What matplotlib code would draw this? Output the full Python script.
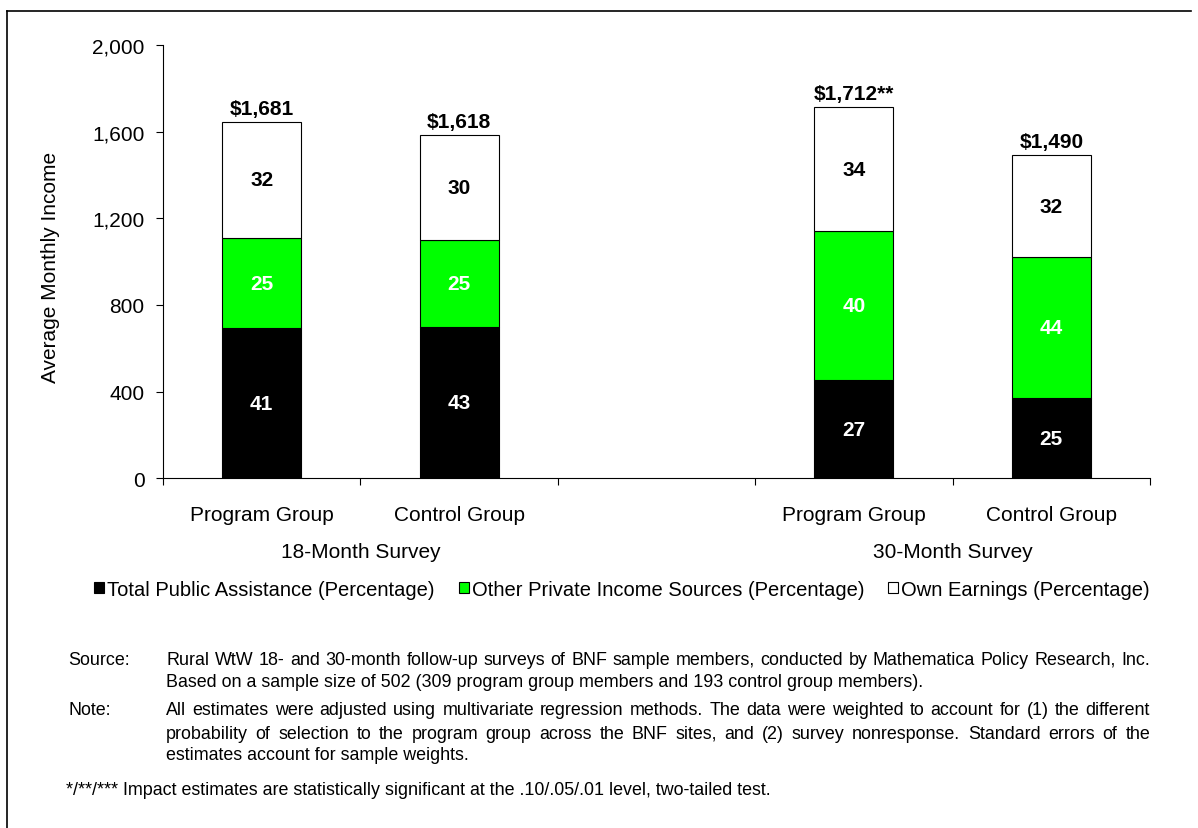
import matplotlib
matplotlib.use("Agg")
import matplotlib.pyplot as plt
import matplotlib.transforms as mtransforms
from matplotlib.patches import Patch
from matplotlib.lines import Line2D
from matplotlib.font_manager import FontProperties

plt.rcParams['font.family'] = ['Liberation Sans', 'DejaVu Sans']

# ---- data ----
groups = ["Program Group", "Control Group", "Program Group", "Control Group"]
surveys = ["18-Month Survey", "30-Month Survey"]
public_assist = [692, 697, 452, 371]
private_income = [418, 403, 690, 651]
own_earnings = [535, 483, 570, 468]
pct_public = ["41", "43", "27", "25"]
pct_private = ["25", "25", "40", "44"]
pct_earn = ["32", "30", "34", "32"]
totals = ["$1,681", "$1,618", "$1,712**", "$1,490"]
series_names = ["Total Public Assistance (Percentage)",
                "Other Private Income Sources (Percentage)",
                "Own Earnings (Percentage)"]
yticks = [0, 400, 800, 1200, 1600, 2000]
ytick_labels = ["0", "400", "800", "1,200", "1,600", "2,000"]

W, H = 1198, 829
fig = plt.figure(figsize=(W / 100, H / 100), dpi=100)
ax = fig.add_axes([163 / W, 1 - 479.3 / H, (1150 - 163) / W, (479.3 - 46) / H])

# layout: 5 category slots, third left blank
xpos = [0.5, 1.5, 3.5, 4.5]
bw = 0.4
GREEN = "#00FF00"
b1 = ax.bar(xpos, public_assist, bw, color="black", edgecolor="black", linewidth=0.8)
b2 = ax.bar(xpos, private_income, bw, bottom=public_assist, color=GREEN, edgecolor="black", linewidth=0.8)
bot3 = [a + b for a, b in zip(public_assist, private_income)]
b3 = ax.bar(xpos, own_earnings, bw, bottom=bot3, color="white", edgecolor="black", linewidth=0.8)

ax.bar_label(b1, labels=pct_public, label_type="center", color="white", fontsize=15, fontweight="bold")
ax.bar_label(b2, labels=pct_private, label_type="center", color="white", fontsize=15, fontweight="bold")
ax.bar_label(b3, labels=pct_earn, label_type="center", color="black", fontsize=15, fontweight="bold")
ax.bar_label(b3, labels=totals, label_type="edge", padding=3, color="black", fontsize=15, fontweight="bold")

ax.set_xlim(0, 5)
ax.set_ylim(0, 2000)
ax.set_yticks(yticks)
ax.set_yticklabels(ytick_labels)
ax.set_xticks([0, 1, 2, 3, 4, 5])
ax.set_xticklabels([])
ax.tick_params(axis="y", direction="out", length=4.8, width=0.8, labelsize=15, pad=8.4)
ax.tick_params(axis="x", direction="out", length=4.8, width=0.8)
for s in ["top", "right"]:
    ax.spines[s].set_visible(False)
for s in ["left", "bottom"]:
    ax.spines[s].set_linewidth(0.8)

trans = mtransforms.blended_transform_factory(ax.transData, fig.transFigure)
for x, g in zip(xpos, groups):
    ax.text(x, 1 - 516 / H, g, transform=trans, ha="center", va="center", fontsize=15)
for x, s in zip([1.0, 4.0], surveys):
    ax.text(x, 1 - 552 / H, s, transform=trans, ha="center", va="center", fontsize=15)

fig.text(51 / W, 1 - 267.5 / H, "Average Monthly Income", rotation=90,
         ha="center", va="center", fontsize=15)

handles = [Patch(facecolor="black", edgecolor="black", linewidth=0.8),
           Patch(facecolor=GREEN, edgecolor="black", linewidth=0.8),
           Patch(facecolor="white", edgecolor="black", linewidth=0.8)]
fig.legend(handles, series_names, loc="center", bbox_to_anchor=(622 / W, 1 - 590 / H),
           ncol=3, frameon=False, fontsize=14.5, handlelength=0.5, handleheight=0.5,
           handletextpad=0.15, columnspacing=1.2, borderaxespad=0)

# ---- footnotes ----
renderer = fig.canvas.get_renderer()
X0, X1 = 166, 1150
src1 = "Rural WtW 18- and 30-month follow-up surveys of BNF sample members, conducted by Mathematica Policy Research, Inc."
src2 = "Based on a sample size of 502 (309 program group members and 193 control group members)."
note1 = "All estimates were adjusted using multivariate regression methods.  The data were weighted to account for (1) the different"
note2 = "probability of selection to the program group across the BNF sites, and (2) survey nonresponse.  Standard errors of the"
note3 = "estimates account for sample weights."
sig = "*/**/*** Impact estimates are statistically significant at the .10/.05/.01 level, two-tailed test."

fp0 = FontProperties(family=['Liberation Sans', 'DejaVu Sans'], size=12)
w0 = renderer.get_text_width_height_descent(src1, fp0, ismath=False)[0]
FS = 12 * (X1 - X0) * 0.995 / w0
fp = FontProperties(family=['Liberation Sans', 'DejaVu Sans'], size=FS)
BASE = 5.5  # baseline offset below line centre (px)


def put(x, y, text):
    fig.text(x / W, 1 - (y + BASE) / H, text, ha="left", va="baseline", fontproperties=fp)


def put_line(y, text, justify):
    if not justify:
        put(X0, y, text)
        return
    words = text.split()
    widths = [renderer.get_text_width_height_descent(w, fp, ismath=False)[0] for w in words]
    gap = ((X1 - X0) - sum(widths)) / (len(words) - 1)
    x = X0
    for w, wd in zip(words, widths):
        put(x, y, w)
        x += wd + gap


put(68, 659.3, "Source:")
put_line(659.3, src1, True)
put_line(681.7, src2, False)
put(68, 710, "Note:")
put_line(710, note1, True)
put_line(733.3, note2, True)
put_line(755, note3, False)
put(66, 790, sig)

# outer frame (left and top edges visible)
fig.add_artist(Line2D([7.3 / W, 7.3 / W], [0, 1 - 12.3 / H], transform=fig.transFigure, color="black", lw=1.2))
fig.add_artist(Line2D([7.3 / W, 1191 / W], [1 - 12.3 / H, 1 - 12.3 / H], transform=fig.transFigure, color="black", lw=1.2))

fig.savefig("out.png", dpi=100)
